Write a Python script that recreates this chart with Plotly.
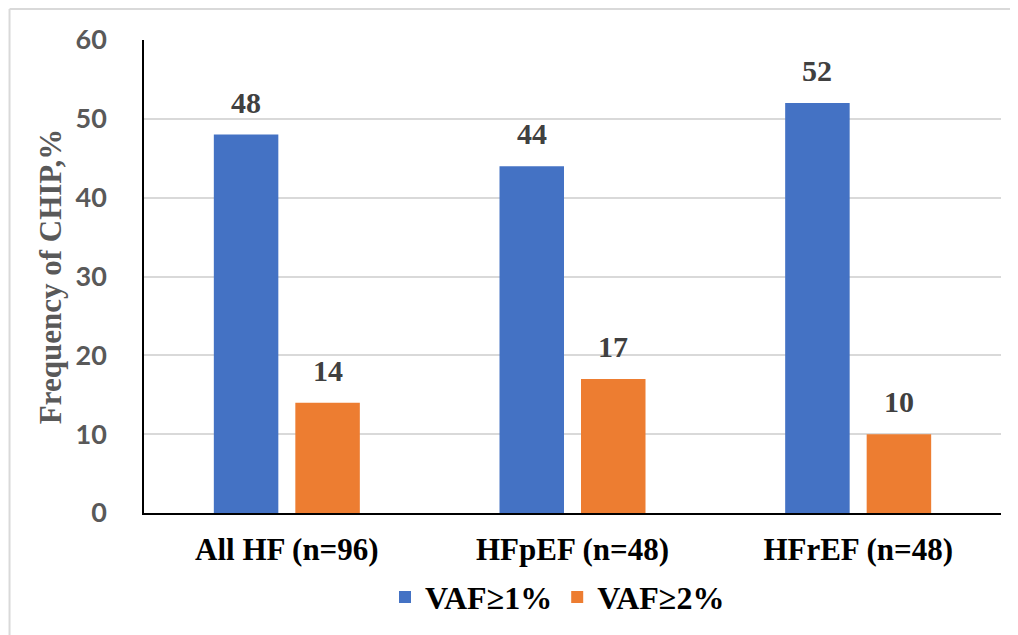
import plotly.graph_objects as go

categories = ["All HF (n=96)", "HFpEF (n=48)", "HFrEF (n=48)"]
vaf1 = [48, 44, 52]
vaf2 = [14, 17, 10]
series_names = ["VAF≥1%", "VAF≥2%"]
colors = ["#4472C4", "#ED7D31"]
y_ticks = [0, 10, 20, 30, 40, 50, 60]

bargap = 0.4294
bargroupgap = 0.2086

serif = "Liberation Serif"

fig = go.Figure()
for name, vals, col in zip(series_names, [vaf1, vaf2], colors):
    fig.add_trace(go.Bar(
        x=categories, y=vals,
        name="<b>" + name + "</b>",
        marker=dict(color=col, line=dict(width=0))))

slot = (1 - bargap) / 2
offsets = [-slot / 2, slot / 2]
annotations = []
for off, vals in zip(offsets, [vaf1, vaf2]):
    for i, v in enumerate(vals):
        annotations.append(dict(
            x=i + off, y=v, xref="x", yref="y", text="<b>" + str(v) + "</b>", showarrow=False,
            yanchor="bottom", yshift=14,
            font=dict(family=serif, size=30, color="#404040")))

# page body has an 8px margin: figure is placed at (8, 8)
fig.update_layout(
    width=1010, height=627,
    margin=dict(l=136, r=17, t=32, b=122, autoexpand=False),
    font=dict(family=serif, size=30, color="black"),
    paper_bgcolor="white", plot_bgcolor="white",
    barmode="group", bargap=bargap, bargroupgap=bargroupgap,
    showlegend=True,
    legend=dict(orientation="h", x=0.4825, xanchor="center", y=-0.178, yanchor="middle",
                font=dict(family=serif, size=32, color="black"),
                tracegroupgap=0),
    annotations=annotations,
    shapes=[
        dict(type="line", xref="paper", yref="paper", x0=-0.1569, x1=-0.1569, y0=-0.3, y1=1.0655,
             line=dict(color="#d9d9d9", width=2)),
        dict(type="line", xref="paper", yref="paper", x0=-0.1569, x1=1.05, y0=1.0655, y1=1.0655,
             line=dict(color="#d9d9d9", width=2)),
    ],
)

fig.update_xaxes(
    showline=True, linecolor="black", linewidth=1.5, showgrid=False,
    tickfont=dict(family=serif, size=31, color="black", weight="bold"),
    ticks="", ticklabelstandoff=8, automargin=False,
)
fig.update_yaxes(
    range=[0, 60], tickvals=y_ticks, showline=True, linecolor="black", linewidth=1.5,
    showgrid=True, gridcolor="#d9d9d9", gridwidth=1.5, zeroline=False,
    tickfont=dict(family="Lato", size=27, color="#595959", weight="bold"),
    ticks="", ticklabelstandoff=30, automargin=False,
    title=dict(text="<b>Frequency of CHIP,%</b>", standoff=5,
               font=dict(family=serif, size=31, color="#595959")),
)

fig.write_html("out.html")
